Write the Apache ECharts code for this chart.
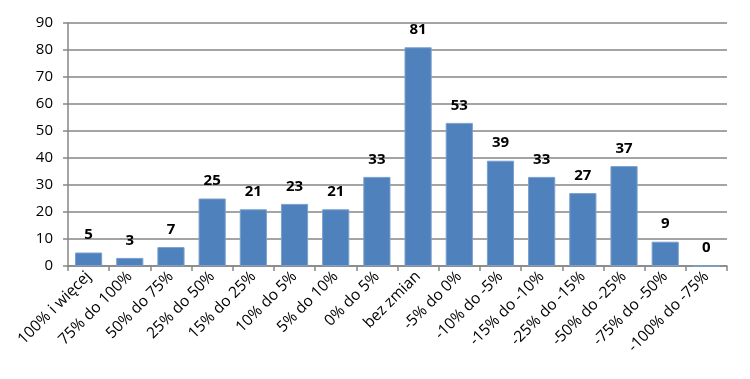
<!DOCTYPE html>
<html><head><meta charset="utf-8">
<script src="https://cdn.jsdelivr.net/npm/echarts@6/dist/echarts.min.js"></script>
<style>html,body{margin:0;padding:0;background:#fff}#c{width:750px;height:379px}</style>
</head><body><div id="c"></div>
<script>
var categories = ["100% i więcej","75% do 100%","50% do 75%","25% do 50%","15% do 25%","10% do 5%","5% do 10%","0% do 5%","bez zmian","-5% do 0%","-10% do -5%","-15% do -10%","-25% do -15%","-50% do -25%","-75% do -50%","-100% do -75%"];
var values = [5,3,7,25,21,23,21,33,81,53,39,33,27,37,9,0];
var yTicks = {min:0, max:90, interval:10};
var font = "'Open Sans', 'Liberation Sans', sans-serif";
var chart = echarts.init(document.getElementById('c'), null, {renderer:'canvas'});
chart.setOption({
  animation:false,
  grid:{left:68, right:23, top:23, bottom:113},
  xAxis:{type:'category', data:categories,
    axisLine:{lineStyle:{color:'#868686', width:1.5}},
    axisTick:{show:true, length:5, lineStyle:{color:'#868686', width:1.5}},
    axisLabel:{interval:0, rotate:45, color:'#000', fontSize:15.5, fontFamily:font, margin:8}
  },
  yAxis:{type:'value', min:yTicks.min, max:yTicks.max, interval:yTicks.interval,
    axisLine:{show:true, lineStyle:{color:'#868686', width:1.5}},
    axisTick:{show:true, length:5, lineStyle:{color:'#868686', width:1.5}},
    splitLine:{lineStyle:{color:'#868686', width:1.5}},
    axisLabel:{color:'#000', fontSize:15, fontFamily:font, margin:15}
  },
  series:[{type:'bar', data:values, barCategoryGap:'34%',
    itemStyle:{color:'#4F81BD', borderColor:'#7BA0CD', borderWidth:1},
    label:{show:true, position:'top', distance:10, color:'#000', fontWeight:'bold', fontSize:15, fontFamily:font}
  }]
});
</script></body></html>
